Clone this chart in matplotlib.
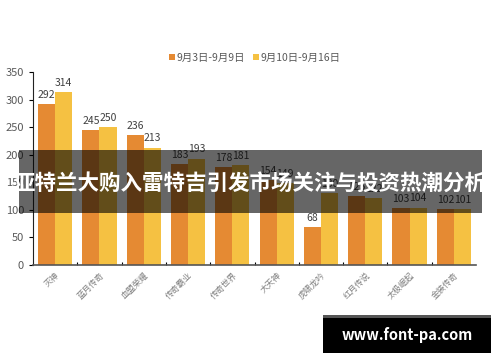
import matplotlib.pyplot as plt
import numpy as np
from matplotlib.patches import Rectangle

plt.rcParams['font.family'] = ['Noto Sans CJK SC', 'DejaVu Sans']

games = ['灭神', '蓝月传奇', '血盟荣耀', '传奇霸业', '传奇世界',
         '大天神', '虎啸龙吟', '红月传说', '太极崛起', '金装传奇']
week1 = [292, 245, 236, 183, 178, 154, 68, 125, 103, 102]
week2 = [314, 250, 213, 193, 181, 149, 130, 122, 104, 101]
labels = ['9月3日-9月9日', '9月10日-9月16日']
colors = ['#E58A33', '#F5C142']

fig = plt.figure(figsize=(5, 3.62), dpi=100)
ax = fig.add_axes([0.066, 0.268, 0.886, 0.533])

x = np.arange(len(games))
w = 0.385
b1 = ax.bar(x - w / 2, week1, w, color=colors[0], label=labels[0])
b2 = ax.bar(x + w / 2, week2, w, color=colors[1], label=labels[1])
for bars in (b1, b2):
    ax.bar_label(bars, padding=3, fontsize=7.5, color='#404040')

ax.set_xlim(-0.5, len(games) - 0.5)
ax.set_ylim(0, 350)
ax.set_yticks(range(0, 351, 50))
ax.set_xticks(x)
ax.set_xticklabels(games, rotation=45, ha='right', rotation_mode='anchor',
                   fontsize=6, color='#808080')
ax.tick_params(axis='y', labelsize=8, labelcolor='#595959', length=3, width=0.8)
ax.tick_params(axis='x', length=0, pad=4)
# small marks between categories on the x axis
ax.set_xticks(x[1:] - 0.5, minor=True)
ax.tick_params(axis='x', which='minor', length=2, direction='in', width=0.8)
for s in ('top', 'right'):
    ax.spines[s].set_visible(False)
ax.spines['left'].set_color('#222222')
ax.spines['bottom'].set_color('#555555')
ax.spines['bottom'].set_linewidth(1.2)

fig.legend(loc='center', bbox_to_anchor=(0.51, 0.84), ncol=2, frameon=False,
           fontsize=7.5, handlelength=0.5, handleheight=0.5, handletextpad=0.2,
           columnspacing=0.8, labelcolor='#595959')

# title banner overlay
fig.patches.append(Rectangle((0.038, 0.412), 0.926, 0.174, transform=fig.transFigure,
                             facecolor='black', alpha=0.6, edgecolor='none', zorder=5))
fig.text(0.5, 0.495, '亚特兰大购入雷特吉引发市场关注与投资热潮分析', ha='center', va='center',
         fontsize=15.5, fontweight='bold', color='white', zorder=6)

# watermark
fig.patches.append(Rectangle((0.646, 0.025), 0.336, 0.105, transform=fig.transFigure,
                             facecolor='black', edgecolor='none', zorder=5))
fig.patches.append(Rectangle((0.646, 0.122), 0.336, 0.008, transform=fig.transFigure,
                             facecolor='#555555', edgecolor='none', zorder=6))
fig.text(0.814, 0.075, 'www.font-pa.com', ha='center', va='center',
         fontsize=10.5, fontweight='bold', color='white', zorder=6)

fig.savefig('out.png', dpi=100)
